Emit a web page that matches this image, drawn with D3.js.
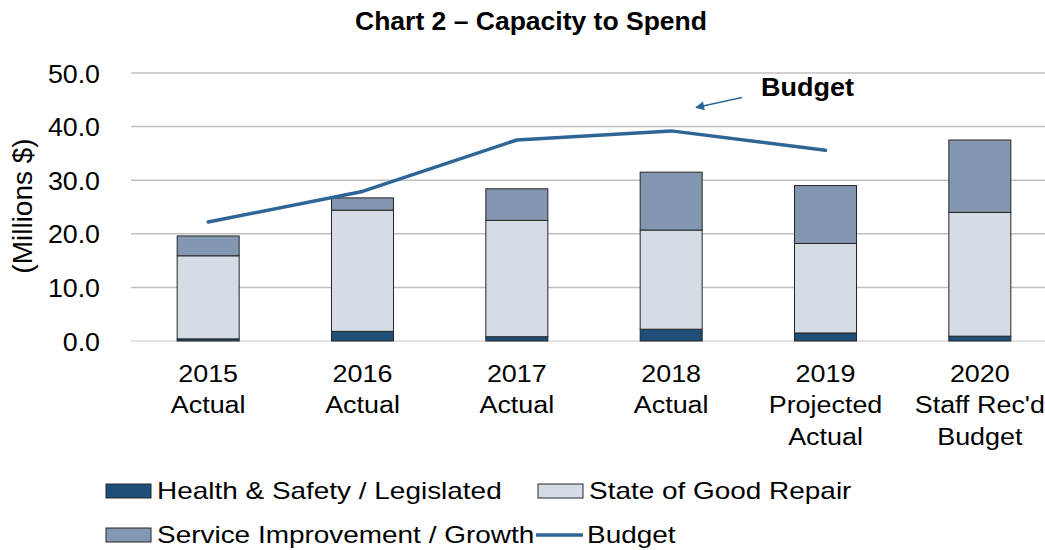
<!DOCTYPE html>
<html>
<head>
<meta charset="utf-8">
<script src="https://cdn.jsdelivr.net/npm/d3@7"></script>
<style>
    body { margin: 0; background: #fff; }
    text { font-family: 'Liberation Sans', Arial, sans-serif; fill: #000; }
</style>
</head>
<body>
<svg id="chart" width="1045" height="550"></svg>
<script>
// chart values
const years = ['2015', '2016', '2017', '2018', '2019', '2020'];
const yearLabels = [
    ['2015', 'Actual'],
    ['2016', 'Actual'],
    ['2017', 'Actual'],
    ['2018', 'Actual'],
    ['2019', 'Projected', 'Actual'],
    ['2020', "Staff Rec'd", 'Budget'],
];
const healthSafety = [0.4, 1.8, 0.8, 2.2, 1.5, 0.9];
const goodRepair = [15.5, 22.6, 21.7, 18.5, 16.7, 23.1];
const serviceGrowth = [3.7, 2.3, 5.9, 10.8, 10.8, 13.5];
const budget = [22.2, 27.9, 37.5, 39.2, 35.6, null];
const yTicks = [0, 10, 20, 30, 40, 50];

const seriesNames = ['Health & Safety / Legislated', 'State of Good Repair', 'Service Improvement / Growth'];
const seriesColors = ['#1f4e79', '#d6dce5', '#8497b0'];
const lineColor = '#2e6597';

const svg = d3.select('#chart');

const x = d3.scaleBand().domain(years).range([131, 1057]).padding(0);
const y = d3.scaleLinear().domain([0, 50]).range([341, 73]);
const barWidth = 62;

// the source text is a bit wider than Arial, so stretch it horizontally
function placeText(sel, px, py, sx) {
    sel.attr('x', 0).attr('y', 0)
        .attr('transform', `translate(${ px }, ${ py }) scale(${ sx }, 1)`);
    return sel;
}

// title
svg.append('text')
    .call(placeText, 531, 30, 1)
    .attr('text-anchor', 'middle')
    .style('font-size', '26.5px')
    .style('font-weight', 'bold')
    .text('Chart 2 \u2013 Capacity to Spend');

// gridlines
svg.append('g')
    .selectAll('line')
    .data(yTicks)
    .enter()
    .append('line')
    .attr('x1', 131)
    .attr('x2', 1057)
    .attr('y1', (d) => y(d))
    .attr('y2', (d) => y(d))
    .attr('stroke', (d) => (d === 0 ? '#d9d9d9' : '#bfbfbf'))
    .attr('stroke-width', 1.5);

// y axis labels
const yAxis = svg.append('g')
    .attr('transform', 'translate(100,0)')
    .call(d3.axisLeft(y).tickValues(yTicks).tickFormat(d3.format('.1f')).tickSize(0).tickPadding(0));
yAxis.select('.domain').remove();
yAxis.selectAll('text')
    .style('font-size', '25.5px')
    .style('font-family', "'Liberation Sans', Arial, sans-serif")
    .attr('fill', '#000')
    .attr('dy', '0.36em')
    .attr('transform', 'scale(1.05, 1)');

svg.append('text')
    .attr('transform', 'translate(32,206) rotate(-90)')
    .attr('text-anchor', 'middle')
    .style('font-size', '28px')
    .text('(Millions $)');

// stacked bars
const rows = years.map((yr, i) => ({
    year: yr,
    hs: healthSafety[i],
    sgr: goodRepair[i],
    sig: serviceGrowth[i],
}));
const stack = d3.stack().keys(['hs', 'sgr', 'sig']);
const layers = stack(rows);

svg.append('g')
    .selectAll('g')
    .data(layers)
    .enter()
    .append('g')
    .attr('fill', (d, i) => seriesColors[i])
    .selectAll('rect')
    .data((d) => d)
    .enter()
    .append('rect')
    .attr('x', (d) => x(d.data.year) + x.bandwidth() / 2 - barWidth / 2)
    .attr('y', (d) => y(d[1]))
    .attr('width', barWidth)
    .attr('height', (d) => y(d[0]) - y(d[1]))
    .attr('stroke', '#262626')
    .attr('stroke-width', 1);

// budget line
const line = d3.line()
    .defined((d) => d !== null)
    .x((d, i) => x(years[i]) + x.bandwidth() / 2)
    .y((d) => y(d));

svg.append('path')
    .datum(budget)
    .attr('d', line)
    .attr('fill', 'none')
    .attr('stroke', lineColor)
    .attr('stroke-width', 3.5)
    .attr('stroke-linecap', 'round')
    .attr('stroke-linejoin', 'round');

// annotation
svg.append('defs')
    .append('marker')
    .attr('id', 'arrow')
    .attr('viewBox', '0 0 10 10')
    .attr('refX', 9)
    .attr('refY', 5)
    .attr('markerWidth', 11)
    .attr('markerHeight', 9)
    .attr('markerUnits', 'userSpaceOnUse')
    .attr('orient', 'auto')
    .append('path')
    .attr('d', 'M0,0 L10,5 L0,10 Z')
    .attr('fill', lineColor);

svg.append('line')
    .attr('x1', 742)
    .attr('y1', 97.5)
    .attr('x2', 696)
    .attr('y2', 107.5)
    .attr('stroke', lineColor)
    .attr('stroke-width', 1.3)
    .attr('marker-end', 'url(#arrow)');

svg.append('text')
    .call(placeText, 761, 96, 1.08)
    .style('font-size', '25px')
    .style('font-weight', 'bold')
    .text('Budget');

// x labels
const xLabels = svg.append('g')
    .selectAll('text')
    .data(yearLabels)
    .enter()
    .append('text')
    .attr('text-anchor', 'middle')
    .style('font-size', '23px')
    .attr('transform', (d, i) => `translate(${ x(years[i]) + x.bandwidth() / 2 }, 0) scale(1.17, 1)`);
xLabels.selectAll('tspan')
    .data((d) => d)
    .enter()
    .append('tspan')
    .attr('x', 0)
    .attr('y', (d, j) => 382 + j * 31.5)
    .text((d) => d);

// legend
const legendItems = [
    { name: seriesNames[0], color: seriesColors[0], type: 'rect', x: 106, y: 491 },
    { name: seriesNames[1], color: seriesColors[1], type: 'rect', x: 538, y: 491 },
    { name: seriesNames[2], color: seriesColors[2], type: 'rect', x: 106, y: 535 },
    { name: 'Budget', color: lineColor, type: 'line', x: 536, y: 535 },
];
const legend = svg.append('g')
    .selectAll('g')
    .data(legendItems)
    .enter()
    .append('g')
    .attr('transform', (d) => `translate(${ d.x }, ${ d.y })`);

legend.filter((d) => d.type === 'rect')
    .append('rect')
    .attr('x', 0)
    .attr('y', -7)
    .attr('width', 45)
    .attr('height', 14)
    .attr('fill', (d) => d.color)
    .attr('stroke', '#262626')
    .attr('stroke-width', 1);

legend.filter((d) => d.type === 'line')
    .append('line')
    .attr('x1', 0)
    .attr('x2', 47)
    .attr('y1', 0)
    .attr('y2', 0)
    .attr('stroke', (d) => d.color)
    .attr('stroke-width', 3.5);

legend.append('text')
    .attr('transform', 'translate(51, 0) scale(1.215, 1)')
    .attr('dy', '0.36em')
    .style('font-size', '23px')
    .text((d) => d.name);
</script>
</body>
</html>
